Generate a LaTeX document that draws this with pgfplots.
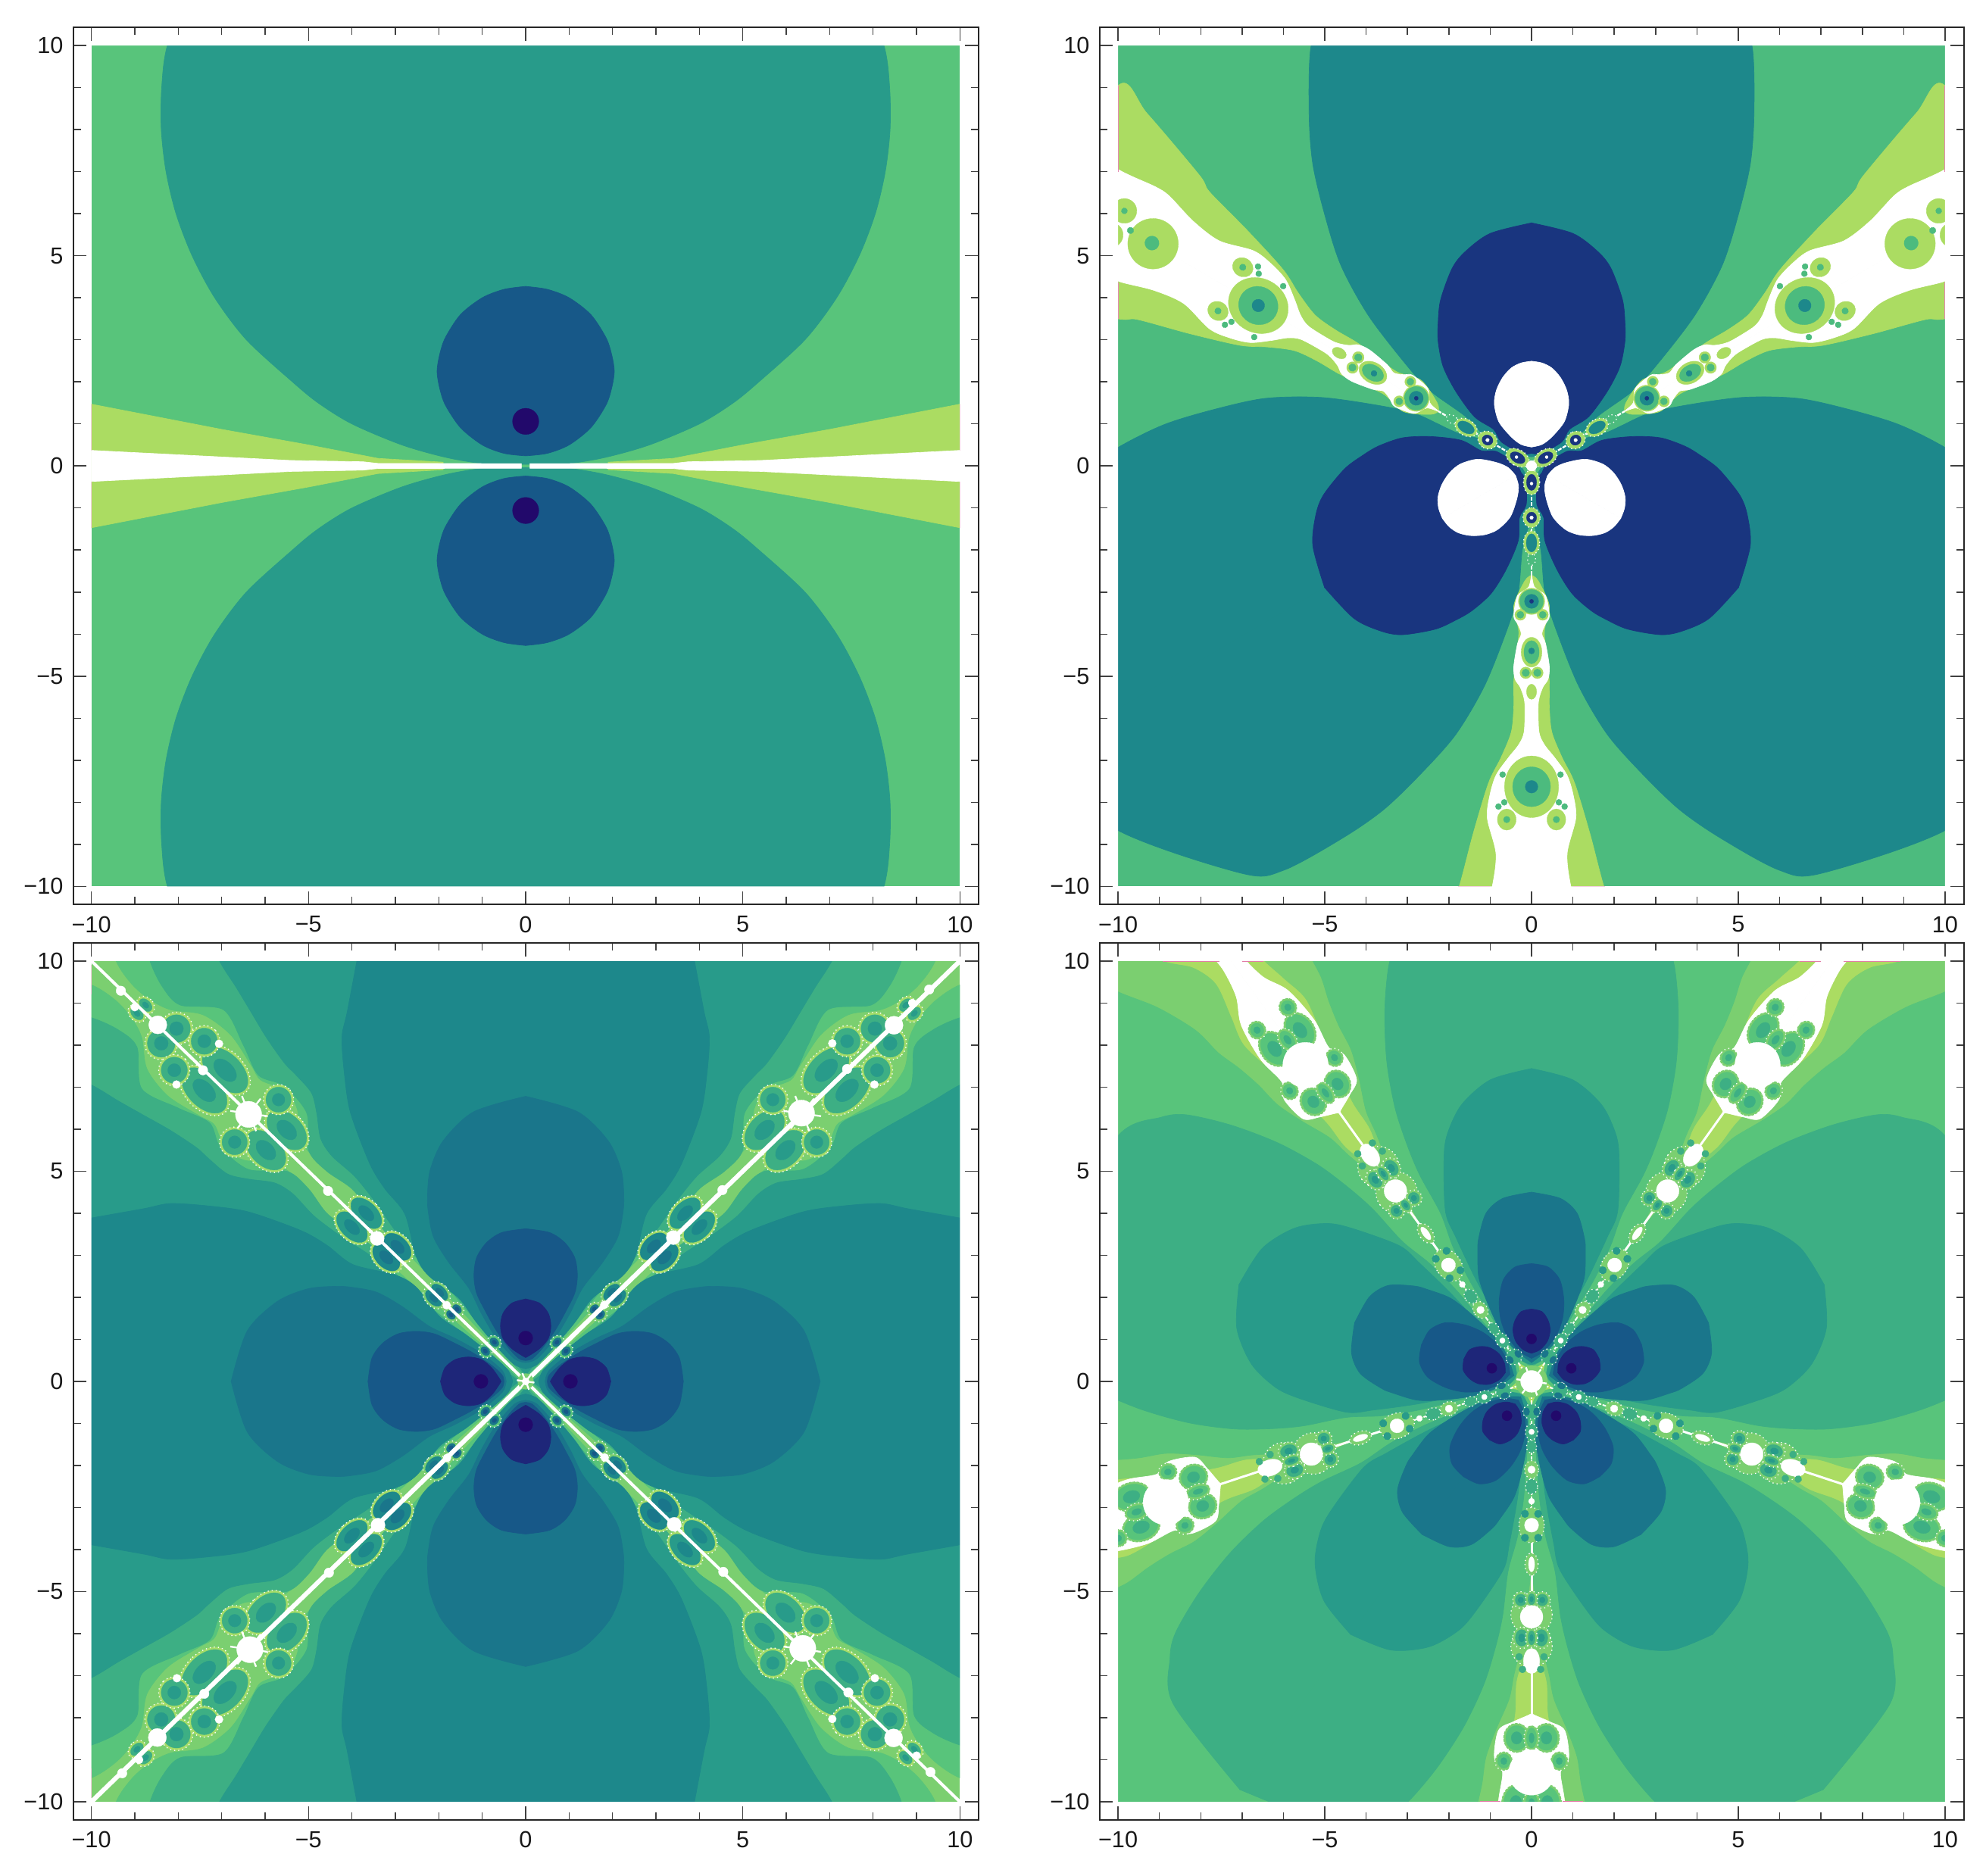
\documentclass[border=0pt]{standalone}
\usepackage{pgfplots}
\pgfplotsset{compat=1.18}
\usepackage{fontspec}
\setmainfont{Liberation Sans}
\definecolor{cLime}{HTML}{ABDC62}
\definecolor{cE}{HTML}{7BCF70}
\definecolor{cG}{HTML}{58C47B}
\definecolor{cGb}{HTML}{4CBB7E}
\definecolor{cF}{HTML}{3DAF84}
\definecolor{cT}{HTML}{289B8A}
\definecolor{cTa}{HTML}{1D888B}
\definecolor{cS}{HTML}{1A768B}
\definecolor{cB}{HTML}{175888}
\definecolor{cN}{HTML}{19357F}
\definecolor{cM}{HTML}{1E2679}
\definecolor{cD}{HTML}{22096B}
\definecolor{cPink}{HTML}{E27CA6}
\definecolor{cRim}{HTML}{A4DC68}
% polygons: half outlines, mirrored and turned
\newcommand\Po[4]{\addplot[fill=#4,draw=#4,line width=.2pt,smooth,tension=.5] table[row sep=\\,x expr={#3*\thisrow{x}*cos(#2)-\thisrow{y}*sin(#2)},y expr={#3*\thisrow{x}*sin(#2)+\thisrow{y}*cos(#2)}]{x y\\ #1} -- cycle;}
\newcommand\Ps[4]{\addplot[fill=#4,draw=#4,line width=.2pt] table[row sep=\\,x expr={#3*\thisrow{x}*cos(#2)-\thisrow{y}*sin(#2)},y expr={#3*\thisrow{x}*sin(#2)+\thisrow{y}*cos(#2)}]{x y\\ #1} -- cycle;}
\newcommand\PoM[3]{\Po{#1}{#2}{1}{#3}\Po{#1}{#2}{-1}{#3}}
\newcommand\PsM[3]{\Ps{#1}{#2}{1}{#3}\Ps{#1}{#2}{-1}{#3}}
\newcommand\PII[2]{\PoM{#1}{0}{#2}\PoM{#1}{180}{#2}}
\newcommand\PIIs[2]{\PsM{#1}{0}{#2}\PsM{#1}{180}{#2}}
\newcommand\PIII[2]{\PoM{#1}{0}{#2}\PoM{#1}{120}{#2}\PoM{#1}{240}{#2}}
\newcommand\PIV[2]{\PoM{#1}{0}{#2}\PoM{#1}{90}{#2}\PoM{#1}{180}{#2}\PoM{#1}{270}{#2}}
\newcommand\PV[2]{\PoM{#1}{0}{#2}\PoM{#1}{72}{#2}\PoM{#1}{144}{#2}\PoM{#1}{216}{#2}\PoM{#1}{288}{#2}}
% marks: discs and ovals at read positions
\newcommand\Mk[6]{\addplot[only marks,mark=*,mark size=1pt,mark options={rotate=#2+#3,xscale=#4,yscale=#5,#6}] table[row sep=\\,x expr={\thisrow{x}*cos(#2)-\thisrow{y}*sin(#2)},y expr={\thisrow{x}*sin(#2)+\thisrow{y}*cos(#2)}]{x y\\ #1};}
\newcommand\DII[4]{\Mk{#1}{0}{0}{#2}{#3}{#4}\Mk{#1}{180}{0}{#2}{#3}{#4}}
\newcommand\DIII[4]{\Mk{#1}{0}{0}{#2}{#3}{#4}\Mk{#1}{120}{0}{#2}{#3}{#4}\Mk{#1}{240}{0}{#2}{#3}{#4}}
\newcommand\DIV[4]{\Mk{#1}{0}{45}{#2}{#3}{#4}\Mk{#1}{90}{45}{#2}{#3}{#4}\Mk{#1}{180}{45}{#2}{#3}{#4}\Mk{#1}{270}{45}{#2}{#3}{#4}}
\newcommand\DV[4]{\Mk{#1}{0}{0}{#2}{#3}{#4}\Mk{#1}{72}{0}{#2}{#3}{#4}\Mk{#1}{144}{0}{#2}{#3}{#4}\Mk{#1}{216}{0}{#2}{#3}{#4}\Mk{#1}{288}{0}{#2}{#3}{#4}}
\tikzset{speck/.style={fill=#1,draw=white,line width=.4pt,dash pattern=on .4pt off 1.2pt},solidf/.style={fill=#1,draw=#1,line width=.1pt}}
\newcommand\Ov[7]{#1{#2}{#3+1}{#4+1}{speck=#5}#1{#2}{#3}{#4}{solidf=#6}#1{#2}{#3*.5}{#4*.5}{solidf=#7}}
% lines turned with the filaments
\newcommand\Ln[4]{\addplot[#4] table[row sep=\\,x expr={\thisrow{x}*cos(#2)-\thisrow{y}*sin(#2)},y expr={\thisrow{x}*sin(#2)+\thisrow{y}*cos(#2)}]{x y\\ #1};}
\newcommand\LIII[2]{\Ln{#1}{0}{}{#2}\Ln{#1}{120}{}{#2}\Ln{#1}{240}{}{#2}}
\newcommand\LV[2]{\Ln{#1}{0}{}{#2}\Ln{#1}{72}{}{#2}\Ln{#1}{144}{}{#2}\Ln{#1}{216}{}{#2}\Ln{#1}{288}{}{#2}}
\newcommand\Ast[2]{\addplot[only marks,mark=asterisk,mark size=#2,mark options={white,line width=.7pt,rotate=22}] table[row sep=\\]{x y\\ #1};}
\newcommand\Mask{\addplot[fill=white,draw=none,even odd rule] coordinates {(-11,-11)(11,-11)(11,11)(-11,11)(-11,-11)(-10,-10)(-10,10)(10,10)(10,-10)(-10,-10)};}
\pgfplotsset{panel/.style={scale only axis,axis on top,clip=true,clip marker paths=true,
  xtick={-10,-5,0,5,10},ytick={-10,-5,0,5,10},
  xticklabels={−10,−5,0,5,10},yticklabels={−10,−5,0,5,10},
  minor tick num=4,tick align=inside,xtick pos=both,ytick pos=both,
  xticklabel pos=lower,yticklabel pos=left,
  major tick length=5.2pt,minor tick length=3pt,
  tick style={line width=.45pt,color=black!75},
  minor tick style={line width=.45pt,color=black!75},
  axis line style={line width=.6pt,color=black!85},
  tick label style={font=\fontsize{9.2}{10}\selectfont,color=black!90},
  xticklabel style={yshift=-1.2pt},yticklabel style={xshift=-.4pt},
  ymin=-10.425,ymax=10.425,height=347.25pt}}
\begin{document}
\begin{tikzpicture}[x=1pt,y=1pt]
\useasboundingbox (0,0) rectangle (786.6,743.1);
% ------------------ panel 1
\begin{axis}[panel,at={(28.95pt,384.9pt)},anchor=south west,width=358.5pt,xmin=-10.42,xmax=10.42]
\addplot[fill=cG,draw=none] coordinates {(-10,-10)(10,-10)(10,10)(-10,10)} -- cycle;
\PII{0 0.04\\0.915 0.05\\1.82 0.2\\2.85 0.5\\4 1\\4.78 1.5\\5.37 2\\6.43 3\\7.16 4\\7.68 5\\8.05 6\\8.28 7\\8.39 8\\8.38 9\\8.25 10\\7.7 11.5\\0 11.5\\}{cT}
\PIIs{1.9 0\\1.9 0.09\\3.4 0.18\\5 0.5\\7 0.87\\10 1.47\\10 0\\}{cLime}
\PIIs{0.1 0\\0.1 0.055\\3.4 0.06\\3.75 0.1\\5.4 0.13\\7.5 0.24\\10 0.37\\10 0\\}{white}
\PII{0 4.27\\0.5 4.2\\1 4\\1.5 3.6\\1.85 3.05\\1.98 2.65\\2.04 2.25\\1.98 1.85\\1.85 1.45\\1.5 0.91\\1 0.5\\0.5 0.3\\0 0.24\\}{cB}
\DII{0 1.06\\}{5.2}{5.2}{solidf=cD}
\addplot[cPink,line width=.5pt] coordinates {(10,0.37)(10,1.47)};
\addplot[cPink,line width=.5pt] coordinates {(10,-0.37)(10,-1.47)};
\addplot[cPink,line width=.5pt] coordinates {(-10,0.37)(-10,1.47)};
\addplot[cPink,line width=.5pt] coordinates {(-10,-0.37)(-10,-1.47)};
\Mask
\end{axis}
% ------------------ panel 2
\begin{axis}[panel,at={(435.45pt,384.9pt)},anchor=south west,width=342.3pt,xmin=-10.45,xmax=10.45]
\addplot[fill=cGb,draw=none] coordinates {(-10,-10)(10,-10)(10,10)(-10,10)} -- cycle;
\PIII{0 14\\2.5 13\\4.9 10.9\\5.33 10\\5.38 8.38\\5.29 7.18\\5 5.97\\4.61 4.77\\3.94 3.57\\3 2.37\\2.43 1.77\\1.59 1.17\\0.99 0.57\\0.4 0.28\\0 0.22\\}{cTa}
\PIII{0 5.78\\1 5.53\\1.6 5.1\\1.92 4.7\\2.2 3.95\\2.26 3.39\\2.26 2.97\\2.14 2.37\\1.83 1.77\\1.38 1.17\\0.92 0.87\\0.73 0.57\\0.24 0.3\\0 0.3\\}{cN}
\PIII{0 2.49\\0.25 2.45\\0.49 2.33\\0.7 2.1\\0.85 1.8\\0.9 1.47\\0.79 1.05\\0.49 0.69\\0.25 0.51\\0 0.45\\}{white}
\PIII{0 -2.6\\0.16 -2.73\\0.43 -3.33\\0.31 -3.93\\0.37 -4.53\\0.43 -5.13\\0.43 -5.73\\0.49 -6.33\\0.74 -6.94\\1.04 -7.54\\1.41 -8.74\\1.75 -10\\1.97 -10.41\\2.61 -12.24\\2.84 -13.18\\0 -13.18\\}{cLime}
\PIII{0 -2.55\\0.07 -2.88\\0.34 -3.09\\0.43 -3.57\\0.34 -3.75\\0.25 -3.99\\0.34 -4.23\\0.43 -4.77\\0.4 -5.07\\0.28 -5.25\\0.19 -5.49\\0.16 -5.73\\0.18 -6.33\\0.31 -6.63\\0.56 -6.94\\0.86 -7.36\\1.01 -7.84\\1.07 -8.38\\0.86 -9.22\\0.95 -10\\1.18 -10.8\\1.2 -11.21\\1.11 -12.1\\1.1 -13.5\\0 -13.5\\}{white}
\LIII{0 -0.1\\0 -2.6\\}{white,line width=.7pt,dash pattern=on 1.6pt off .5pt}
% discs inside the filament
\DIII{0 -7.63\\}{10.7}{12.2}{solidf=cLime}
\DIII{0 -7.63\\}{7.5}{7.9}{solidf=cGb}
\DIII{0 -7.63\\}{2.5}{2.5}{solidf=cTa}
\DIII{0 -10.57\\}{10}{10}{solidf=cLime}
\DIII{0 -10.6\\}{2.8}{2.8}{solidf=cGb}
\DIII{0 -11.2\\}{1.3}{1.3}{solidf=cGb}
\DIII{0.33 -11.56\\-0.33 -11.56\\}{4.9}{4.9}{solidf=cLime}
\DIII{0.33 -11.56\\-0.33 -11.56\\}{1.2}{1.2}{solidf=cGb}
\DIII{0.6 -8.41\\-0.6 -8.41\\}{3.7}{4.2}{solidf=cLime}
\DIII{0.6 -8.41\\-0.6 -8.41\\}{1.3}{1.3}{solidf=cGb}
\DIII{0.7 -7.34\\-0.7 -7.34\\0.8 -8.1\\-0.8 -8.1\\0.66 -8.0\\-0.66 -8.0\\}{1.2}{1.2}{solidf=cGb}
\DIII{0 -4.43\\}{4.1}{5.9}{solidf=cLime}
\DIII{0 -4.43\\}{3}{4.6}{solidf=cGb}
\DIII{0 -4.4\\}{1.2}{1.2}{solidf=cTa}
\DIII{0.14 -4.92\\-0.14 -4.92\\}{2.3}{2.3}{solidf=cLime}
\DIII{0.14 -4.92\\-0.14 -4.92\\}{1.5}{1.5}{solidf=cGb}
\DIII{0 -5.37\\}{2}{3}{solidf=cLime}
\DIII{0 -3.22\\}{5.2}{5.2}{solidf=cLime}
\DIII{0 -3.22\\}{4.7}{4.7}{solidf=cGb}
\DIII{0 -3.22\\}{2.8}{2.8}{solidf=cTa}
\DIII{0 -3.22\\}{.8}{.8}{solidf=cN}
\DIII{0.27 -3.54\\-0.27 -3.54\\}{2.2}{2.2}{solidf=cLime}
\DIII{0.27 -3.54\\-0.27 -3.54\\}{1.4}{1.4}{solidf=cGb}
\DIII{0 -2.22\\}{1.6}{2.4}{speck=cGb}
\DIII{0 -1.83\\}{3.2}{4.8}{speck=cRim}
\DIII{0 -1.83\\}{2.1}{3.6}{solidf=cTa}
\DIII{0 -1.23\\}{3.4}{4}{speck=cRim}
\DIII{0 -1.23\\}{2}{2.2}{solidf=cN}
\DIII{0 -1.23\\}{.7}{.7}{solidf=white}
\DIII{0 -0.39\\}{3.2}{5}{speck=cRim}
\DIII{0 -0.39\\}{2}{3.2}{solidf=cN}
\DIII{0 -0.42\\}{.6}{.6}{solidf=white}
\DIII{0 0\\}{2}{2}{solidf=white}
\addplot[cPink,line width=.5pt] coordinates {(-1.77,-10)(-1,-10)};
\addplot[cPink,line width=.5pt] coordinates {(1.77,-10)(1,-10)};
\addplot[cPink,line width=.5pt] coordinates {(-10,7)(-10,9.05)};
\addplot[cPink,line width=.5pt] coordinates {(10,7)(10,9.05)};
\addplot[cPink,line width=.5pt] coordinates {(-10,3.5)(-10,4.37)};
\addplot[cPink,line width=.5pt] coordinates {(10,3.5)(10,4.37)};
\Mask
\end{axis}
% ------------------ panel 3
\begin{axis}[panel,at={(28.95pt,22.29pt)},anchor=south west,width=358.5pt,xmin=-10.42,xmax=10.42]
\addplot[fill=cE,draw=none] coordinates {(-10,-10)(10,-10)(10,10)(-10,10)} -- cycle;
\PIV{0 11\\9.7 11\\9.43 10\\9.06 9.44\\8.65 9.08\\8.18 8.84\\7.43 8.72\\6.79 8.24\\6.32 7.52\\6.09 7.16\\5.51 6.92\\5.25 6.44\\5.25 5.85\\4.85 5.3\\4.25 4.85\\3.75 4.4\\3.3 3.85\\2.8 3.15\\2.35 2.65\\1.9 2.15\\1.5 1.7\\1 1.15\\0.6 0.7\\0.3 0.35\\0 0.1\\}{cG}
\PIV{0 11\\8.9 11\\8.65 10\\8.36 9.38\\7.95 8.95\\6.96 8.84\\6.5 8\\6.15 7.28\\5.57 7.03\\5.04 6.38\\4.99 5.48\\4.58 5\\4 4.58\\3.54 3.98\\3.1 3.4\\2.3 2.78\\1.85 2.3\\1.4 1.75\\0.9 1.15\\0.5 0.7\\0.25 0.37\\0 0.12\\}{cF}
\PIV{0 11\\7.5 11\\7.05 10\\6.67 9.38\\6.32 8.78\\5.97 8.18\\5.56 7.58\\5.28 7.28\\4.93 6.86\\4.81 6.38\\4.72 5.78\\4.46 5.36\\3.94 4.88\\3.47 4.28\\2.84 3.38\\2.1 2.78\\1.75 2.3\\1.3 1.75\\0.85 1.15\\0.45 0.7\\0.2 0.4\\0 0.15\\}{cT}
\PIV{0 11\\3.7 11\\3.89 9.98\\4.11 8.78\\4.23 8.18\\4.17 7.28\\4.03 6.38\\3.59 5.18\\3.24 4.58\\2.78 3.98\\2.53 3\\2.24 2.52\\1.54 1.98\\1.13 1.4\\0.6 0.75\\0.26 0.4\\0 0.3\\}{cTa}
\PIV{0 6.78\\1.2 6.41\\1.9 5.72\\2.2 5.02\\2.26 4.4\\2.24 4.02\\2.12 3.43\\1.77 2.83\\1.31 2.22\\1.02 1.62\\0.67 1.02\\0.26 0.54\\0 0.45\\}{cS}
\PIV{0 3.63\\0.55 3.54\\0.9 3.3\\1.13 2.94\\1.19 2.52\\1.13 2.1\\0.9 1.62\\0.67 1.2\\0.38 0.78\\0.15 0.54\\0 0.5\\}{cB}
\PIV{0 1.96\\0.32 1.86\\0.52 1.62\\0.58 1.32\\0.52 1.02\\0.32 0.78\\0.06 0.6\\0 0.57\\}{cM}
\DIV{0 1.03\\}{2.8}{2.8}{solidf=cD}
% ovals beside the filaments
\Ov\DIV{-7.4 6.92\\-6.92 7.4\\}{6.5}{11}{cRim}{cF}{cT}
\Ov\DIV{-5.98 5.5\\-5.5 5.98\\}{6}{9.4}{cRim}{cF}{cT}
\Ov\DIV{-6.7 5.69\\-5.69 6.7\\}{5}{5}{cRim}{cF}{cT}
\Ov\DIV{-8.04 8.39\\-8.39 8.04\\}{5.5}{5.5}{cRim}{cF}{cT}
\Ov\DIV{-7.4 8.09\\-8.09 7.4\\}{5.2}{5.2}{cRim}{cF}{cT}
\Ov\DIV{-8.95 8.75\\-8.75 8.95\\}{2}{3}{cRim}{cF}{cT}
\Ov\DIV{-4 3.67\\-3.67 4\\}{4.3}{7.5}{cRim}{cT}{cTa}
\Ov\DIV{-3.21 2.95\\-2.95 3.2\\}{4}{6.5}{cRim}{cTa}{cS}
\Ov\DIV{-2.12 1.98\\-1.98 2.12\\}{2.3}{4}{cE}{cTa}{cS}
\Ov\DIV{-1.72 1.58\\-1.58 1.72\\}{1.5}{2}{cE}{cS}{cB}
\Ov\DIV{-0.93 0.72\\-0.72 0.93\\}{1.5}{2}{cG}{cS}{cB}
\addplot[white,line width=1.8pt] coordinates {(-10,-10)(10,10)};
\addplot[white,line width=1.2pt] coordinates {(-10,10)(10,-10)};
\DIV{-6.38 6.35\\}{5.2}{5.2}{solidf=white}
\DIV{-8.47 8.48\\}{3.6}{3.6}{solidf=white}
\DIV{-3.42 3.4\\}{2.8}{2.8}{solidf=white}
\DIV{-9.32 9.29\\-4.55 4.53\\-7.43 7.4\\}{1.9}{1.9}{solidf=white}
\DIV{-8.04 7.06\\-7.06 8.03\\-9 8.9\\-1.82 1.81\\}{1.6}{1.6}{solidf=white}
\Ast{6.37 6.37\\-6.37 6.37\\6.37 -6.37\\-6.37 -6.37\\}{7.5pt}
\addplot[only marks,mark=*,mark size=3pt,mark options={fill=cE,draw=cE}] coordinates {(0,0)};
\Ast{0 0\\}{3.5pt}
\addplot[only marks,mark=*,mark size=1.3pt,mark options={fill=white,draw=white}] coordinates {(0,0)};
\addplot[cPink,line width=.5pt] coordinates {(-10,9.2)(-10,9.9)};
\addplot[cPink,line width=.5pt] coordinates {(-10,-9.2)(-10,-9.9)};
\Mask
\end{axis}
% ------------------ panel 4
\begin{axis}[panel,at={(435.45pt,22.29pt)},anchor=south west,width=342.3pt,xmin=-10.45,xmax=10.45]
\addplot[fill=cLime,draw=none] coordinates {(-10,-10)(10,-10)(10,10)(-10,10)} -- cycle;
\PV{0 16\\7 15\\6.9 13\\6.75 11.57\\6.82 10.82\\6.62 10.18\\5.99 9.59\\5.45 9.09\\5.04 8.18\\4.7 7.4\\4.3 6.6\\3.9 6\\3.6 5.2\\3.2 4.5\\2.75 3.8\\2.1 2.9\\1.6 2.2\\1.1 1.5\\0.7 0.95\\0.35 0.5\\0 0.3\\}{cE}
\PV{0 15\\5.9 14\\5.72 12.37\\5.66 11.35\\5.43 10.31\\5.09 9.62\\4.9 9.04\\4.66 8.46\\4.36 7.88\\4.17 7.2\\4.0 6.43\\3.75 5.88\\3.4 5\\3 4.3\\2.6 3.6\\2 2.8\\1.5 2.1\\1 1.4\\0.6 0.8\\0.3 0.45\\0 0.3\\}{cG}
\PV{0 12\\2.5 11.3\\3.2 10.47\\3.45 9.9\\3.55 8.8\\3.5 7.6\\3.3 6.5\\3 5.6\\2.7 4.9\\2.2 4\\1.9 3.2\\1.5 2.4\\1.1 1.75\\0.7 1.1\\0.35 0.6\\0 0.35\\}{cF}
\PV{0 7.44\\1 7.17\\1.7 6.57\\2.05 5.84\\2.12 5.2\\2.08 4.03\\1.83 3.43\\1.4 2.53\\0.97 1.75\\0.6 1.15\\0.3 0.55\\0 0.4\\}{cT}
\PV{0 4.5\\0.7 4.35\\1.1 4\\1.28 3.4\\1.3 3.1\\1.28 2.5\\1.1 1.95\\0.8 1.3\\0.45 0.8\\0 0.45\\}{cS}
\PV{0 2.8\\0.4 2.72\\0.68 2.42\\0.78 1.95\\0.75 1.5\\0.6 1.1\\0.3 0.72\\0 0.55\\}{cB}
\PV{0 1.72\\0.25 1.66\\0.4 1.45\\0.45 1.21\\0.38 0.95\\0.2 0.75\\0 0.67\\}{cM}
\DV{0 1.01\\}{2}{2}{solidf=cD}
% filament: outer cluster
\PV{0 -7.9\\0.1 -7.95\\0.45 -8.1\\0.8 -8.3\\0.9 -8.94\\0.7 -9.3\\0.8 -10.05\\0.7 -10.98\\0.4 -11.6\\0.28 -12.3\\0.3 -13\\0 -13\\}{white}
\LV{0 -3.4\\0 -7.95\\}{white,line width=.9pt}
\LV{0 -0.1\\0 -3.4\\}{white,line width=.6pt,dash pattern=on 1.4pt off .6pt}
\Ov\DV{0.36 -8.48\\-0.36 -8.48\\}{4.3}{4.9}{cE}{cG}{cF}
\Ov\DV{0 -8.48\\}{2}{4}{cE}{cG}{cF}
\Ov\DV{0.67 -9.03\\-0.67 -9.03\\}{2.5}{2.8}{cE}{cG}{cF}
\Ov\DV{0.38 -10.05\\-0.38 -10.05\\}{4.8}{6.8}{cE}{cG}{cF}
\Ov\DV{0 -10.04\\}{2.4}{4}{cE}{cG}{cF}
\Ov\DV{0.46 -10.66\\-0.46 -10.66\\}{2.6}{2.8}{cE}{cG}{cF}
\DV{0 -9.3\\}{9}{9}{solidf=white}
% middle cluster
\DV{0 -5.55\\0 -6.3\\}{8.2}{8.2}{speck=cE}
\Ov\DV{0.26 -5.2\\-0.26 -5.2\\}{2.2}{2.3}{cE}{cF}{cT}
\Ov\DV{0 -5.18\\}{1.4}{2.2}{cE}{cF}{cT}
\Ov\DV{0.24 -6.1\\-0.24 -6.1\\}{2.5}{3.3}{cE}{cF}{cT}
\Ov\DV{0 -6.1\\}{1.4}{2.8}{cE}{cF}{cT}
\DV{0 -5.6\\}{4.5}{4.5}{solidf=white}
\DV{0 -6.65\\}{3.2}{5}{solidf=white}
\DV{0.3 -6.55\\-0.3 -6.55\\0.22 -6.85\\-0.22 -6.85\\}{1.4}{1.4}{solidf=cF}
% inner clusters
\DV{0 -4.35\\}{2.6}{4.5}{speck=cE}
\DV{0 -4.35\\}{1.2}{3}{solidf=white}
\DV{0 -3.42\\}{5}{7}{speck=cE}
\DV{0.16 -3.15\\-0.16 -3.15\\0.16 -3.72\\-0.16 -3.72\\}{1.5}{1.5}{solidf=cT}
\DV{0 -3.42\\}{2.8}{2.8}{solidf=white}
\DV{0 -2.1\\}{2.8}{3.6}{speck=cE}
\DV{0 -2.1\\}{1.5}{1.5}{solidf=white}
\DV{0 -2.5\\}{2.4}{3}{speck=cF}
\DV{0 -2.85\\}{1.2}{1.2}{solidf=white}
\DV{0 -1.2\\}{2.5}{3.2}{speck=cF}
\DV{0 -1.2\\}{1.1}{1.1}{solidf=white}
\DV{0 -1.55\\}{2}{2.5}{speck=cF}
\DV{0 -0.72\\}{3.4}{3}{speck=cF}
\DV{0.12 -0.72\\-0.12 -0.72\\}{1.2}{1.6}{solidf=cS}
\addplot[only marks,mark=*,mark size=6.2pt,mark options={fill=cE,draw=cE}] coordinates {(0,0)};
\Ast{0 0\\}{6pt}
\addplot[only marks,mark=*,mark size=4.2pt,mark options={fill=white,draw=white}] coordinates {(0,0)};
\addplot[cPink,line width=.5pt] coordinates {(6.48,10)(7,10)};
\addplot[cPink,line width=.5pt] coordinates {(7.55,10)(8.92,10)};
\addplot[cPink,line width=.5pt] coordinates {(-6.48,10)(-7,10)};
\addplot[cPink,line width=.5pt] coordinates {(-7.55,10)(-8.92,10)};
\addplot[cPink,line width=.5pt] coordinates {(-1.25,-10)(-0.75,-10)};
\addplot[cPink,line width=.5pt] coordinates {(1.25,-10)(0.75,-10)};
\Mask
\end{axis}
\end{tikzpicture}
\end{document}
